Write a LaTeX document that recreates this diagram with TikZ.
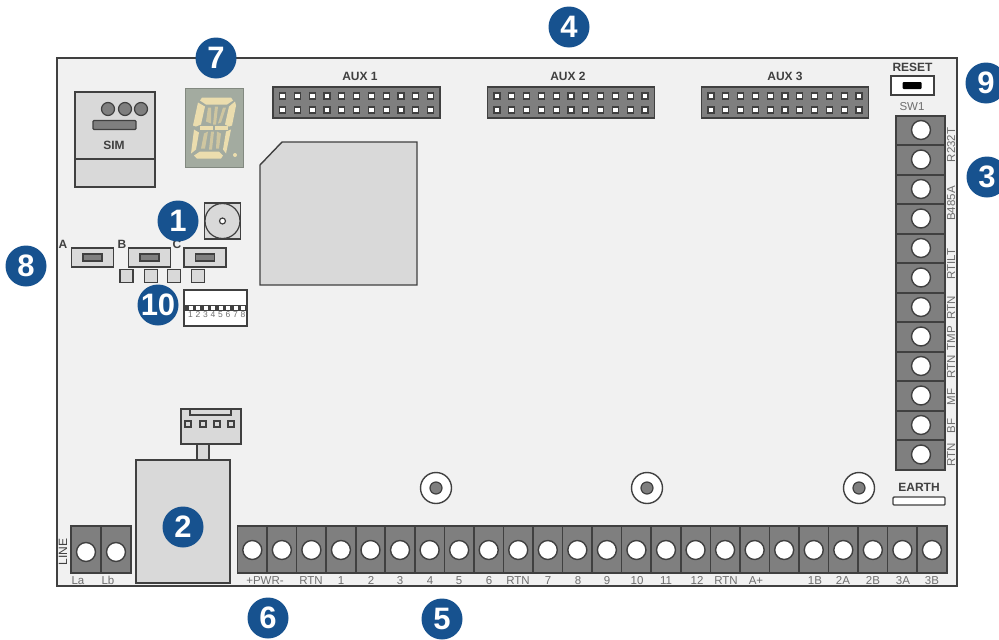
\documentclass[tikz,border=0pt]{standalone}
\usepackage{fontspec}
\setmainfont{Liberation Sans}
\definecolor{badgeblue}{HTML}{17528F}
\definecolor{boardgray}{HTML}{F1F1F1}
\definecolor{partgray}{HTML}{D9D9D9}
\definecolor{termgray}{HTML}{7F7F7F}
\definecolor{edgegray}{HTML}{404040}
\definecolor{labelgray}{HTML}{6E6E6E}
\definecolor{ledgray}{HTML}{A3ABA0}
\definecolor{ledseg}{HTML}{EBDDAE}
\definecolor{leddim}{HTML}{CFC6A0}
\begin{document}
\begin{tikzpicture}[x=1pt, y=-1pt,
    badge/.style={shape=circle,fill=badgeblue,text=white,minimum size=41pt,inner sep=0pt,font=\fontsize{31}{31}\selectfont\bfseries},
    part/.style={draw=edgegray,fill=partgray,line width=1.4pt},
    termbox/.style={draw=edgegray,fill=termgray,line width=1.6pt,minimum width=29.6pt,minimum height=47pt,inner sep=0pt},
    termvbox/.style={draw=edgegray,fill=termgray,line width=1.6pt,minimum width=49pt,minimum height=29.5pt,inner sep=0pt},
    hole/.style={shape=circle,draw=edgegray,fill=white,line width=1.4pt,minimum size=19pt,inner sep=0pt},
    pin/.style={draw=edgegray,fill=white,line width=1.2pt,minimum size=6pt,inner sep=0pt},
    header/.style={draw=edgegray,fill=termgray,line width=1.5pt,inner sep=0pt},
    txt/.style={inner sep=0pt,text=labelgray,text height=8.2pt,text depth=0pt,font=\fontsize{11.5}{11.5}\selectfont},
    bold/.style={inner sep=0pt,text=edgegray,text height=8.6pt,text depth=0pt,font=\fontsize{12}{12}\selectfont\bfseries},
    button/.style={part,minimum width=42pt,minimum height=19pt,inner sep=0pt},
    knob/.style={draw=edgegray,fill=termgray,line width=1.3pt,minimum width=19pt,minimum height=7pt,inner sep=0pt},
    led/.style={part,minimum size=13pt,inner sep=0pt},
    mount/.style={shape=circle,draw=edgegray,fill=white,line width=1.4pt,minimum size=31pt,inner sep=0pt}]
  \useasboundingbox (0,0) rectangle (999,640);
  % board
  \node[draw=edgegray,fill=boardgray,line width=1.5pt,minimum width=900pt,minimum height=528pt,inner sep=0pt] (board) at (507,322) {};
  % sim holder
  \node[part,minimum width=80pt,minimum height=95pt,inner sep=0pt] (sim) at (115,139.5) {};
  \draw[edgegray,line width=1.4pt] (sim.west |- 0,159) -- (sim.east |- 0,159);
  \node[shape=circle,draw=edgegray,fill=termgray,line width=1.2pt,minimum size=13pt,inner sep=0pt] (simA) at (108,109) {};
  \node[shape=circle,draw=edgegray,fill=termgray,line width=1.2pt,minimum size=13pt,inner sep=0pt] (simB) at (125,109) {};
  \node[shape=circle,draw=edgegray,fill=termgray,line width=1.2pt,minimum size=13pt,inner sep=0pt] (simC) at (141,109) {};
  \node[draw=edgegray,fill=termgray,line width=1.2pt,rounded corners=1pt,minimum width=43pt,minimum height=9pt,inner sep=0pt] (simslot) at (114.5,125) {};
  \node[bold] (simlabel) at (114,145) {SIM};
  % display
  \node[fill=ledgray,draw=ledgray!80!black,minimum width=58pt,minimum height=79pt,inner sep=0pt] (disp) at (214,127.5) {};
  \begin{scope}[shift={(214,127.5)}]
    \fill[leddim] (-6,-20) -- (-3,-20) -- (-3,-4) -- (-8,-6) -- cycle;
    \fill[leddim] (1,-21) -- (4,-21) -- (2,-3) -- (-1,-3) -- cycle;
    \fill[leddim] (9,-20) -- (12,-20) -- (7,-5) -- (4,-4) -- cycle;
    \fill[leddim] (-10,6) -- (-6,4) -- (-9,21) -- (-13,21) -- cycle;
    \fill[leddim] (-3,4) -- (0,4) -- (-2,22) -- (-5,22) -- cycle;
    \fill[leddim] (3,4) -- (7,6) -- (5,21) -- (2,21) -- cycle;
    \fill[ledseg] (-12,-30) -- (17,-30) -- (19,-27) -- (13,-23) -- (-8,-23) -- (-14,-27) -- cycle;
    \fill[ledseg] (-16,-25) -- (-9,-21) -- (-13,-3) -- (-18,-1) -- (-21,-2) -- cycle;
    \fill[ledseg] (21,-26) -- (22,-22) -- (18,-2) -- (15,-1) -- (11,-3) -- (15,-21) -- cycle;
    \fill[ledseg] (-14,-2) -- (-1,-2) -- (-1,2) -- (-14,2) -- cycle;
    \fill[ledseg] (1,-2) -- (14,-2) -- (14,2) -- (1,2) -- cycle;
    \fill[ledseg] (-20,2) -- (-15,5) -- (-18,22) -- (-23,26) -- cycle;
    \fill[ledseg] (17,2) -- (12,4) -- (9,22) -- (12,26) -- cycle;
    \fill[ledseg] (-20,28) -- (-14,24) -- (5,24) -- (9,28) -- (7,31) -- (-17,31) -- cycle;
    \fill[ledseg] (21,27.5) circle (2pt);
  \end{scope}
  % aux headers
  \foreach \aux/\cx/\cy/\lx in {1/356.5/102.5/360, 2/571/102.5/568, 3/785/102.5/785}{
    \node[header,minimum width=167pt,minimum height=31pt] (aux\aux) at (\cx,\cy) {};
    \node[bold] (aux\aux label) at (\lx,76) {AUX \aux};
    \foreach \i in {0,...,10}{
      \node[pin] (aux\aux a\i) at ({\cx-74+14.8*\i},96) {};
      \node[pin] (aux\aux b\i) at ({\cx-74+14.8*\i},110) {};
    }
  }
  % cpu
  \draw[part] (282,142) -- (417,142) -- (417,285) -- (260,285) -- (260,165) -- cycle;
  % buzzer
  \node[draw=edgegray,fill=partgray,line width=1.2pt,minimum size=36pt,inner sep=0pt] (buzzbox) at (222.5,221) {};
  \node[shape=circle,draw=edgegray,fill=partgray,line width=1.2pt,minimum size=35pt,inner sep=0pt] (buzz) at (222.5,221) {};
  \node[shape=circle,draw=edgegray,fill=white,line width=1.2pt,minimum size=6pt,inner sep=0pt] (buzzhole) at (222.5,221) {};
  % buttons
  \foreach \n/\bx/\by/\lx in {A/92.5/257.5/63, B/149.5/257.5/122, C/205/257.5/177}{
    \node[button] (btn\n) at (\bx,\by) {};
    \node[knob] (knob\n) at (\bx,\by) {};
    \node[bold] (lbl\n) at (\lx,244.5) {\n};
  }
  \foreach \n/\lx in {a/126.5,b/151,c/174,d/198}{
    \node[led] (led\n) at (\lx,276) {};
  }
  % dip switch
  \node[draw=edgegray,fill=white,line width=1.2pt,minimum width=63pt,minimum height=36pt,inner sep=0pt] (dip) at (215.5,308) {};
  \fill[edgegray] (184.5,305) rectangle (246.5,311);
  \foreach \i in {1,...,8}{
    \node[draw=edgegray,fill=white,line width=.6pt,minimum size=5pt,inner sep=0pt] (dipkey\i) at ({190.5+7.5*(\i-1)},308) {};
    \node[inner sep=0pt,text=labelgray,font=\fontsize{8.5}{8.5}\selectfont] (diplabel\i) at ({190.5+7.5*(\i-1)},315) {\i};
  }
  % power supply and connector
  \node[part,minimum width=94pt,minimum height=123pt,inner sep=0pt] (psu) at (183,521.5) {};
  \node[part,minimum width=12pt,minimum height=15pt,inner sep=0pt] (neck) at (203,452) {};
  \node[part,minimum width=60pt,minimum height=35pt,inner sep=0pt] (plug) at (211,426.5) {};
  \draw[edgegray,line width=1.2pt] (190,409) -- (190,415) -- (231,415) -- (231,409);
  \foreach \n/\lx in {a/188,b/203,c/217,d/231}{
    \node[pin,fill=partgray] (plug\n) at (\lx,424) {};
  }
  % earth pad
  \node[bold] (earthlabel) at (919,487) {EARTH};
  \node[draw=edgegray,fill=white,line width=1.4pt,rounded corners=1pt,minimum width=52pt,minimum height=8pt,inner sep=0pt] (earth) at (919,501) {};
  % mounting holes
  \foreach \n/\mx in {a/436,b/647,c/859}{
    \node[mount] (mount\n) at (\mx,488) {};
    \node[shape=circle,draw=edgegray,fill=termgray,line width=1.2pt,minimum size=12pt,inner sep=0pt] (mounthole\n) at (\mx,488) {};
  }
  % line terminals
  \foreach \n/\lx in {La/86,Lb/116}{
    \node[termbox] (term\n) at (\lx,549.5) {};
    \node[hole] (hole\n) at (\lx,552) {};
    \node[txt] (label\n) at (\lx-8,580) {\n};
  }
  \node[inner sep=0pt,text=edgegray,rotate=90,font=\fontsize{12}{12}\selectfont] (linelabel) at (63,552) {LINE};
  % bottom terminals
  \foreach \i in {0,...,23}{
    \node[termbox] (term\i) at ({252.3+29.55*\i},549.5) {};
    \node[hole] (hole\i) at ({252.3+29.55*\i},550) {};
  }
  \foreach \n/\lx/\t in {pwr/265/{+PWR-},rtnA/311/RTN,one/341/1,two/371/2,three/400/3,four/430/4,five/459/5,six/489/6,rtnB/518/RTN,seven/548/7,eight/578/8,nine/607/9,ten/637/10,eleven/666/11,twelve/697/12,rtnC/726/RTN,ap/756/A+,ob/815/1B,ta/843/2A,tb/873/2B,tc/903/3A,td/932/3B}{
    \node[txt] (label\n) at (\lx,580) {\t};
  }
  % right terminals
  \foreach \i in {0,...,11}{
    \node[termvbox] (rterm\i) at (920.5,{130.5+29.5*\i}) {};
    \node[hole] (rhole\i) at (921,{130+29.5*\i}) {};
  }
  \foreach \n/\ly/\t in {ra/145/R232T,rb/203.5/B485A,rc/264/RTILT,rd/308/RTN,re/338/TMP,rf/367/RTN,rg/397/MF,rh/426/BF,ri/455/RTN}{
    \node[txt,rotate=90] (rlabel\n) at (951,\ly) {\t};
  }
  % reset
  \node[bold] (resetlabel) at (912.5,67) {RESET};
  \node[draw=edgegray,fill=white,line width=1.4pt,minimum width=43pt,minimum height=19pt,inner sep=0pt] (reset) at (912.5,85.5) {};
  \node[fill=black,rounded corners=1pt,minimum width=19pt,minimum height=7pt,inner sep=0pt] (resetknob) at (912,85.5) {};
  \node[txt] (swlabel) at (912,106) {SW1};
  % badges
  \node[badge] (badge1) at (178,221) {1};
  \node[badge] (badge2) at (183,527) {2};
  \node[badge] (badge3) at (987,177) {3};
  \node[badge] (badge4) at (569,27) {4};
  \node[badge] (badge5) at (442,619) {5};
  \node[badge] (badge6) at (268,618) {6};
  \node[badge] (badge7) at (216,58) {7};
  \node[badge] (badge8) at (26,266) {8};
  \node[badge] (badge9) at (986,83) {9};
  \node[badge] (badge10) at (158,305) {10};
\end{tikzpicture}
\end{document}
